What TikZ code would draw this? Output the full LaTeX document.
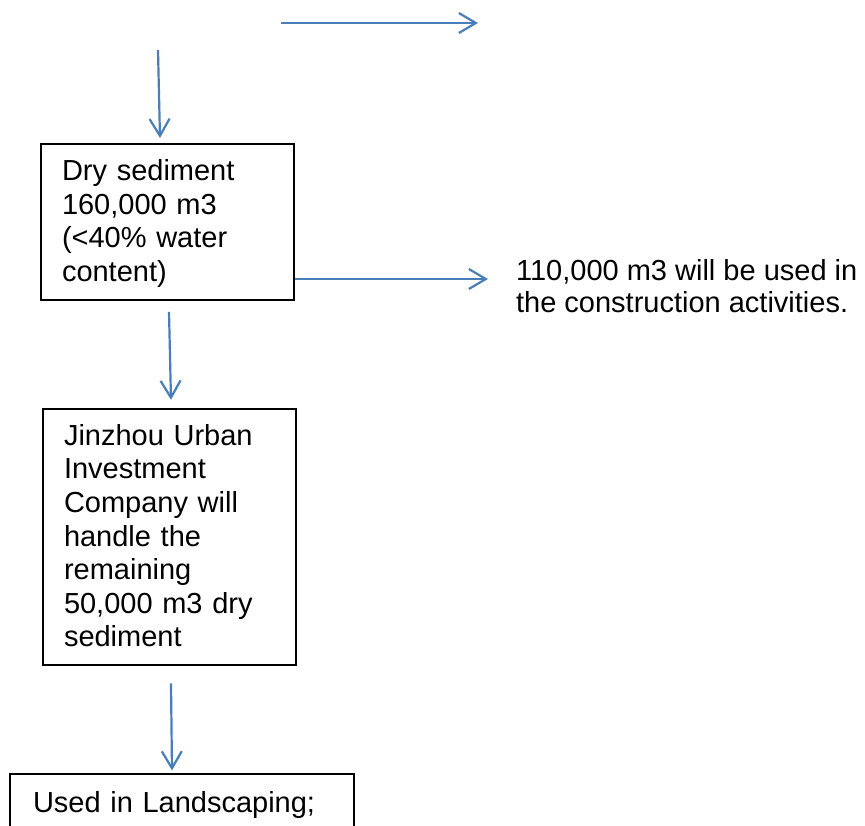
\documentclass[tikz,border=0pt]{standalone}
\usepackage{fontspec}
\setmainfont{Liberation Sans}
\usetikzlibrary{positioning,arrows.meta}
\definecolor{flowblue}{HTML}{4A7EBB}
\newcommand{\boxtopstrut}{\leavevmode\vrule width 0pt height 26pt\relax}
\newcommand{\boxbotstrut}{\vrule width 0pt depth 8pt\relax}

\begin{document}
\begin{tikzpicture}[x=1pt,y=-1pt,->,>={Straight Barb[length=17pt,width=20pt]},
                    line width=2.2pt,color=flowblue,node distance=108pt]
  \tikzstyle{box}=[draw=black,line width=2pt,text=black,align=left,
                   inner xsep=21pt,inner ysep=10.5pt,text width=211pt,
                   font=\fontsize{29}{33.6}\selectfont,
                   execute at begin node=\boxtopstrut,
                   execute at end node=\boxbotstrut]
  \tikzstyle{note}=[inner sep=0pt,text=black,align=left,
                    font=\fontsize{29}{32}\selectfont]

  \useasboundingbox (0,0) rectangle (865,825);

  \node[box,anchor=north west] (dry) at (40,143)
        {Dry sediment\\160,000 m3\\(<40\% water\\content)};
  \node[box,below=107pt of dry.south west,anchor=north west,xshift=2pt] (jinzhou)
        {Jinzhou Urban\\Investment\\Company will\\handle the\\remaining\\50,000 m3 dry\\sediment};
  \node[box,below=107pt of jinzhou.south west,anchor=north west,xshift=-33pt,
        inner xsep=23pt,text width=298pt,minimum height=100pt,
        text depth=50pt] (landscape)
        {Used in Landscaping;};
  \node[note,anchor=base west] (used) at (515,312)
        {110,000 m3 will be used in\\the construction activities.};

  \coordinate (topstart) at (281,23);
  \coordinate (topend)   at (478,23);
  \coordinate (feed)     at (158,50);
  \coordinate (sideend)  at (488,279);

  \draw (topstart) -- (topend);
  \draw (feed) -- ([xshift=120pt,yshift=5pt]dry.north west);
  \draw (dry.east |- sideend) -- (sideend);
  \draw ([xshift=129pt,yshift=-11pt]dry.south west)
        -- ([xshift=129pt,yshift=8pt]jinzhou.north west);
  \draw ([xshift=129pt,yshift=-17pt]jinzhou.south west)
        -- ([xshift=163pt,yshift=3pt]landscape.north west);
\end{tikzpicture}
\end{document}
